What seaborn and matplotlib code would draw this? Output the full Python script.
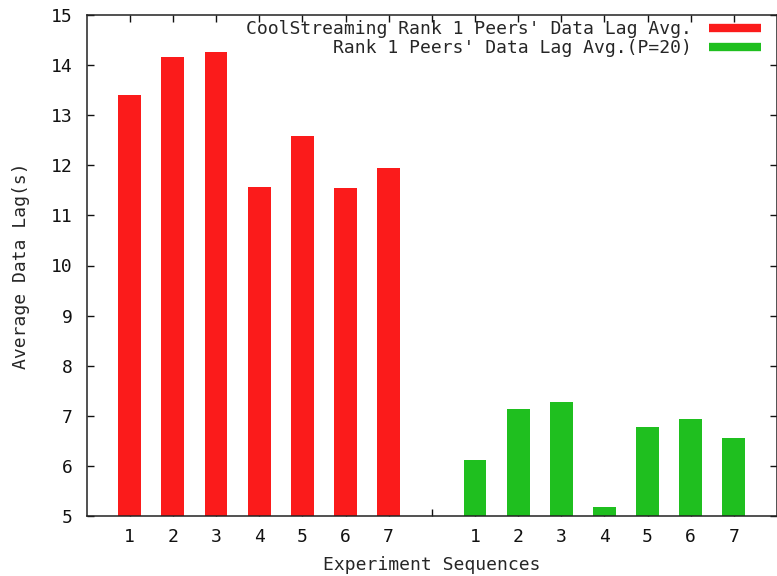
import matplotlib
matplotlib.use("Agg")
import matplotlib.pyplot as plt
from matplotlib.lines import Line2D
import numpy as np
import pandas as pd
import seaborn as sns

# Experiment sequence labels and average data lag (seconds) for each series
sequences = ["1", "2", "3", "4", "5", "6", "7"]
coolstreaming_lag = [13.41, 14.16, 14.26, 11.56, 12.58, 11.54, 11.95]
rank1_p20_lag = [6.12, 7.13, 7.28, 5.17, 6.77, 6.94, 6.55]
series_names = [
    "CoolStreaming Rank 1 Peers' Data Lag Avg.",
    "Rank 1 Peers' Data Lag Avg.(P=20)",
]
series_colors = ["#fb1b1b", "#1fbf1f"]

# Build a long table; each group sits in its own block with one empty slot between
group_stride = len(sequences) + 1
rows = []
for g, (name, values) in enumerate(zip(series_names, [coolstreaming_lag, rank1_p20_lag])):
    for i, (seq, v) in enumerate(zip(sequences, values)):
        rows.append({"pos": g * group_stride + i + 1, "seq": seq, "lag": v, "series": name})
df = pd.DataFrame(rows)

sns.set_style("ticks")
plt.rcParams["font.family"] = ["DejaVu Sans Mono"]
plt.rcParams["font.size"] = 13

fig = plt.figure(figsize=(7.77, 5.76), dpi=100)
ax = fig.add_axes([86.6 / 777, 60 / 576, (777 - 86.6) / 777, (516 - 15) / 576])

sns.barplot(
    data=df, x="pos", y="lag", hue="series", palette=series_colors,
    native_scale=True, dodge=False, width=0.53, saturation=1,
    legend=False, ax=ax, linewidth=0,
)

ax.set_xlim(0, 2 * group_stride)
ax.set_ylim(5, 15)
tick_pos = list(range(1, 2 * group_stride))
tick_labels = sequences + [""] + sequences
ax.set_xticks(tick_pos)
ax.set_xticklabels(tick_labels)
ax.set_yticks(range(5, 16))

ax.tick_params(direction="in", length=5, width=1, top=True, right=True,
               labelsize=13, colors="#111111", pad=9)
ax.tick_params(axis="y", pad=10)
for s in ax.spines.values():
    s.set_visible(True)
    s.set_linewidth(1.1)
    s.set_color("#222222")

ax.set_xlabel("Experiment Sequences", fontsize=13, labelpad=7)
ax.set_ylabel("Average Data Lag(s)", fontsize=13, labelpad=15)

handles = [Line2D([0], [0], color=c, lw=6, solid_capstyle="butt") for c in series_colors]
leg = ax.legend(
    handles, series_names, loc="upper right", bbox_to_anchor=(0.977, 0.99),
    frameon=False, markerfirst=False, handlelength=2.9, handletextpad=0.95,
    labelspacing=0.07, borderpad=0, borderaxespad=0, fontsize=13,
)

fig.savefig("out.png", dpi=100)
